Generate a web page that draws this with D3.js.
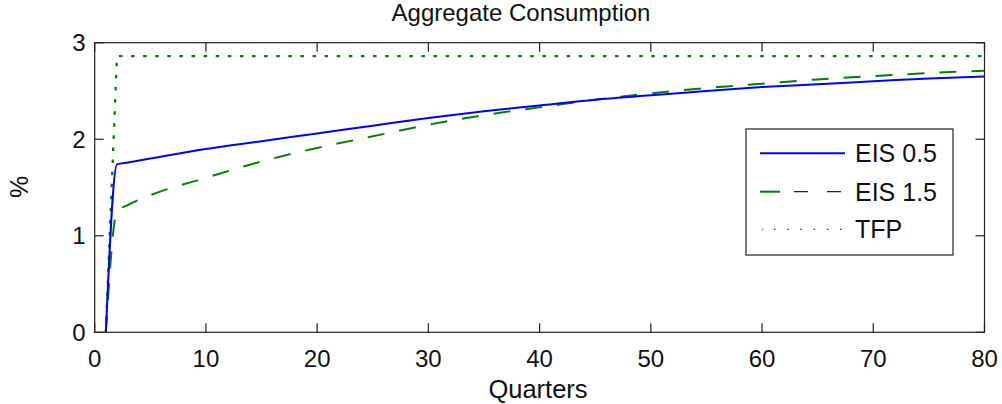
<!DOCTYPE html>
<html><head><meta charset="utf-8">
<script src="https://cdn.jsdelivr.net/npm/d3@7"></script>
<style>body{margin:0;background:#fff}svg{display:block}text{font-family:"Liberation Sans",Arial,sans-serif;fill:#111}</style>
</head><body><svg id="c" width="1002" height="404"></svg>
<script>
const quarters = [1,2,3,5,10,15,20,25,30,35,40,45,50,55,60,65,70,75,80];
const eis05    = [0,1.74,1.76,1.80,1.90,1.98,2.06,2.14,2.22,2.29,2.35,2.41,2.455,2.50,2.54,2.57,2.60,2.63,2.65];
const eis15    = [0,1.25,1.32,1.42,1.60,1.77,1.91,2.03,2.15,2.25,2.33,2.41,2.475,2.53,2.575,2.62,2.655,2.685,2.71];
const tfp      = [0,2.86,2.86,2.86,2.86,2.86,2.86,2.86,2.86,2.86,2.86,2.86,2.86,2.86,2.86,2.86,2.86,2.86,2.86];
const xTicks = [0,10,20,30,40,50,60,70,80];
const yTicks = [0,1,2,3];
const legendLabels = ["EIS 0.5","EIS 1.5","TFP"];

const svg = d3.select("#c");
const L=94.7, R=984.5, T=42.7, B=332.3;
const x = d3.scaleLinear().domain([0,80]).range([L,R]);
const y = d3.scaleLinear().domain([0,3]).range([B,T]);

const line = d3.line().x(d=>x(d[0])).y(d=>y(d[1])).curve(d3.curveMonotoneX);
const mk = arr => quarters.map((q,i)=>[q,arr[i]]);

svg.append("path").datum(mk(tfp)).attr("d",d3.line().x(d=>x(d[0])).y(d=>y(d[1])))
  .attr("fill","none").attr("stroke","#008000").attr("stroke-width",2.3).attr("stroke-dasharray","3.5,8.6");
svg.append("path").datum(mk(eis15)).attr("d",line)
  .attr("fill","none").attr("stroke","#008000").attr("stroke-width",2).attr("stroke-dasharray","17,15");
svg.append("path").datum(mk(eis05)).attr("d",line)
  .attr("fill","none").attr("stroke","#0000ff").attr("stroke-width",2);

// box
svg.append("rect").attr("x",L).attr("y",T).attr("width",R-L).attr("height",B-T)
  .attr("fill","none").attr("stroke","#222").attr("stroke-width",1.2);

const tl=9;
const ax = svg.append("g").attr("stroke","#222").attr("stroke-width",1.2);
xTicks.forEach(t=>{
  ax.append("line").attr("x1",x(t)).attr("x2",x(t)).attr("y1",B).attr("y2",B-tl);
  ax.append("line").attr("x1",x(t)).attr("x2",x(t)).attr("y1",T).attr("y2",T+tl);
});
yTicks.forEach(t=>{
  ax.append("line").attr("x1",L).attr("x2",L+tl).attr("y1",y(t)).attr("y2",y(t));
  ax.append("line").attr("x1",R).attr("x2",R-tl).attr("y1",y(t)).attr("y2",y(t));
});
svg.append("g").selectAll("text").data(xTicks).join("text")
  .attr("x",d=>x(d)).attr("y",366.5).attr("text-anchor","middle").attr("font-size",24).text(d=>d);
svg.append("g").selectAll("text").data(yTicks).join("text")
  .attr("x",85.5).attr("y",d=>y(d)).attr("dy","0.36em").attr("text-anchor","end").attr("font-size",24).text(d=>d);

svg.append("text").attr("x",521).attr("y",20.5).attr("text-anchor","middle").attr("font-size",24).text("Aggregate Consumption");
svg.append("text").attr("x",538).attr("y",398).attr("text-anchor","middle").attr("font-size",25.5).text("Quarters");
svg.append("text").attr("transform","translate(28,187) rotate(-90)").attr("text-anchor","middle").attr("font-size",25).text("%");

// legend
const lg = svg.append("g");
lg.append("rect").attr("x",746).attr("y",129).attr("width",207).attr("height",126)
  .attr("fill","#fff").attr("stroke","#222").attr("stroke-width",1.2);
const rows=[153.3,191.7,229.3];
lg.append("line").attr("x1",760).attr("x2",845).attr("y1",rows[0]).attr("y2",rows[0]).attr("stroke","#0000ff").attr("stroke-width",2);
lg.append("line").attr("x1",760).attr("x2",780).attr("y1",rows[1]).attr("y2",rows[1]).attr("stroke","#008000").attr("stroke-width",2);
lg.append("line").attr("x1",794).attr("x2",845).attr("y1",rows[1]).attr("y2",rows[1]).attr("stroke","#222").attr("stroke-width",1.2).attr("stroke-dasharray","14,19");
lg.append("circle").attr("cx",762.5).attr("cy",rows[2]).attr("r",0.9).attr("fill","#f55");
lg.append("line").attr("x1",774).attr("x2",845).attr("y1",rows[2]).attr("y2",rows[2]).attr("stroke","#333").attr("stroke-width",1.3).attr("stroke-dasharray","1.5,11.7");
lg.selectAll("text.l").data(legendLabels).join("text").attr("class","l")
  .attr("x",855).attr("y",(d,i)=>rows[i]).attr("dy","0.36em").attr("font-size",25).text(d=>d);
</script></body></html>
